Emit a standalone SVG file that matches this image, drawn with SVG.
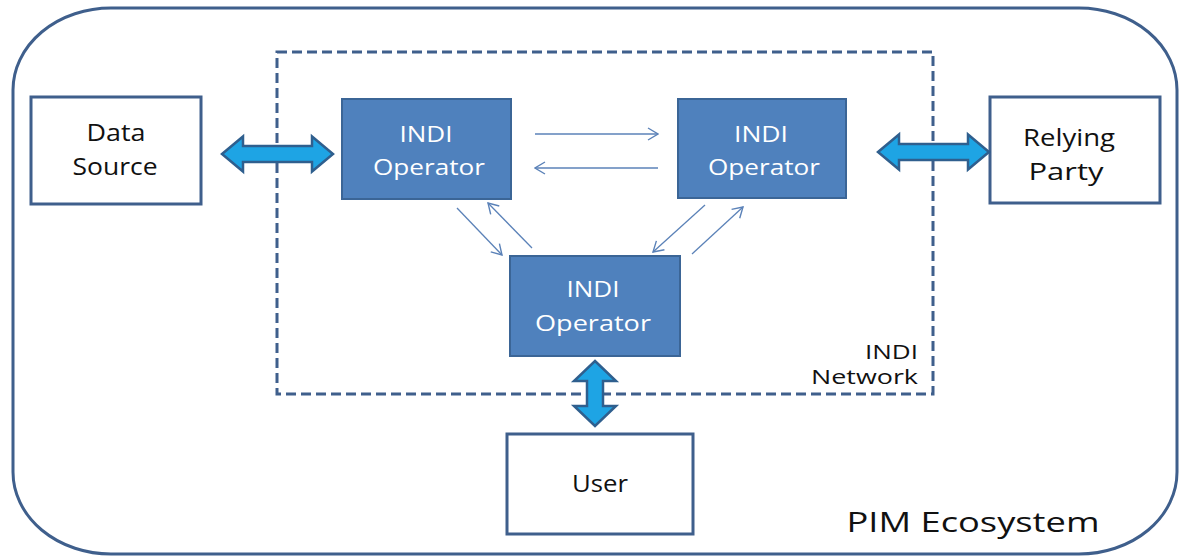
<svg xmlns="http://www.w3.org/2000/svg" width="1179" height="558" viewBox="0 0 1179 558">
<style>
.lbl{font-family:"Open Sans","Liberation Sans",sans-serif;font-size:23px;fill:#111;text-anchor:middle}
.net{font-family:"Open Sans","Liberation Sans",sans-serif;font-size:20px;fill:#111;text-anchor:end}
.op{font-family:"Open Sans","Liberation Sans",sans-serif;font-size:22px;fill:#fff;text-anchor:middle}
.wbox{fill:#fff;stroke:#3f5f8c;stroke-width:3}
.obox{fill:#4f81bd;stroke:#3b6596;stroke-width:2}
.big{fill:#1ea4e4;stroke:#2f5f8e;stroke-width:2.5;stroke-linejoin:miter}
.thin{stroke:#5b82b8;stroke-width:1.3;fill:none;marker-end:url(#vh)}
</style>
<defs>
<marker id="vh" markerUnits="userSpaceOnUse" markerWidth="14" markerHeight="14" viewBox="0 0 14 14" refX="13" refY="7" orient="auto">
<path d="M3,1 L13,7 L3,13" fill="none" stroke="#5b82b8" stroke-width="1.4"/>
</marker>
</defs>
<rect width="1179" height="558" fill="#fff"/>
<g id="pim-ecosystem">
<rect x="13" y="8" width="1164" height="546" rx="98" ry="82" fill="none" stroke="#3f5f8c" stroke-width="3"/>
<text x="973" y="532" font-family="'Open Sans','Liberation Sans',sans-serif" font-size="27" fill="#111" text-anchor="middle" textLength="253" lengthAdjust="spacingAndGlyphs">PIM Ecosystem</text>
</g>
<g id="indi-network">
<rect x="277" y="52" width="656" height="342" fill="none" stroke="#3f5f8c" stroke-width="3" stroke-dasharray="10,5"/>
<text x="918" y="359" class="net" textLength="53" lengthAdjust="spacingAndGlyphs">INDI</text>
<text x="918" y="384" class="net" textLength="107" lengthAdjust="spacingAndGlyphs">Network</text>
</g>
<g id="data-source">
<rect x="31" y="97" width="170" height="107" class="wbox"/>
<text x="116" y="141" class="lbl" textLength="59" lengthAdjust="spacingAndGlyphs">Data</text>
<text x="115" y="175" class="lbl" textLength="85" lengthAdjust="spacingAndGlyphs">Source</text>
</g>
<g id="relying-party">
<rect x="990" y="97" width="170" height="106" class="wbox"/>
<text x="1069" y="146" class="lbl" textLength="92" lengthAdjust="spacingAndGlyphs">Relying</text>
<text x="1066" y="180" class="lbl" textLength="75" lengthAdjust="spacingAndGlyphs">Party</text>
</g>
<g id="operator-1">
<rect x="342" y="99" width="169" height="100" class="obox"/>
<text x="426" y="142" class="op" textLength="53" lengthAdjust="spacingAndGlyphs">INDI</text>
<text x="429" y="175" class="op" textLength="112" lengthAdjust="spacingAndGlyphs">Operator</text>
</g>
<g id="operator-2">
<rect x="678" y="99" width="168" height="99" class="obox"/>
<text x="761" y="142" class="op" textLength="54" lengthAdjust="spacingAndGlyphs">INDI</text>
<text x="764" y="175" class="op" textLength="112" lengthAdjust="spacingAndGlyphs">Operator</text>
</g>
<g id="operator-3">
<rect x="510" y="256" width="170" height="100" class="obox"/>
<text x="593" y="297" class="op" textLength="53" lengthAdjust="spacingAndGlyphs">INDI</text>
<text x="593" y="331" class="op" textLength="116" lengthAdjust="spacingAndGlyphs">Operator</text>
</g>
<g id="user">
<rect x="507" y="434" width="186" height="100" class="wbox"/>
<text x="600" y="492" class="lbl" textLength="56" lengthAdjust="spacingAndGlyphs">User</text>
</g>
<g id="connectors">
<path class="big" d="M222,154 L243,136.5 L243,146 L312,146 L312,136.5 L333,154 L312,171.5 L312,162 L243,162 L243,171.5 Z"/>
<path class="big" d="M878,152 L899,134.5 L899,144 L968,144 L968,134.5 L989,152 L968,169.5 L968,160 L899,160 L899,169.5 Z"/>
<path class="big" d="M595,361 L616,381 L603,381 L603,406 L616,406 L595,426 L574,406 L587,406 L587,381 L574,381 Z"/>
<line class="thin" x1="535" y1="134" x2="658" y2="134"/>
<line class="thin" x1="658" y1="168" x2="535" y2="168"/>
<line class="thin" x1="457" y1="208" x2="502" y2="255"/>
<line class="thin" x1="532" y1="248" x2="488" y2="203"/>
<line class="thin" x1="705" y1="205" x2="653" y2="252"/>
<line class="thin" x1="692" y1="254" x2="743" y2="207"/>
</g>
</svg>
